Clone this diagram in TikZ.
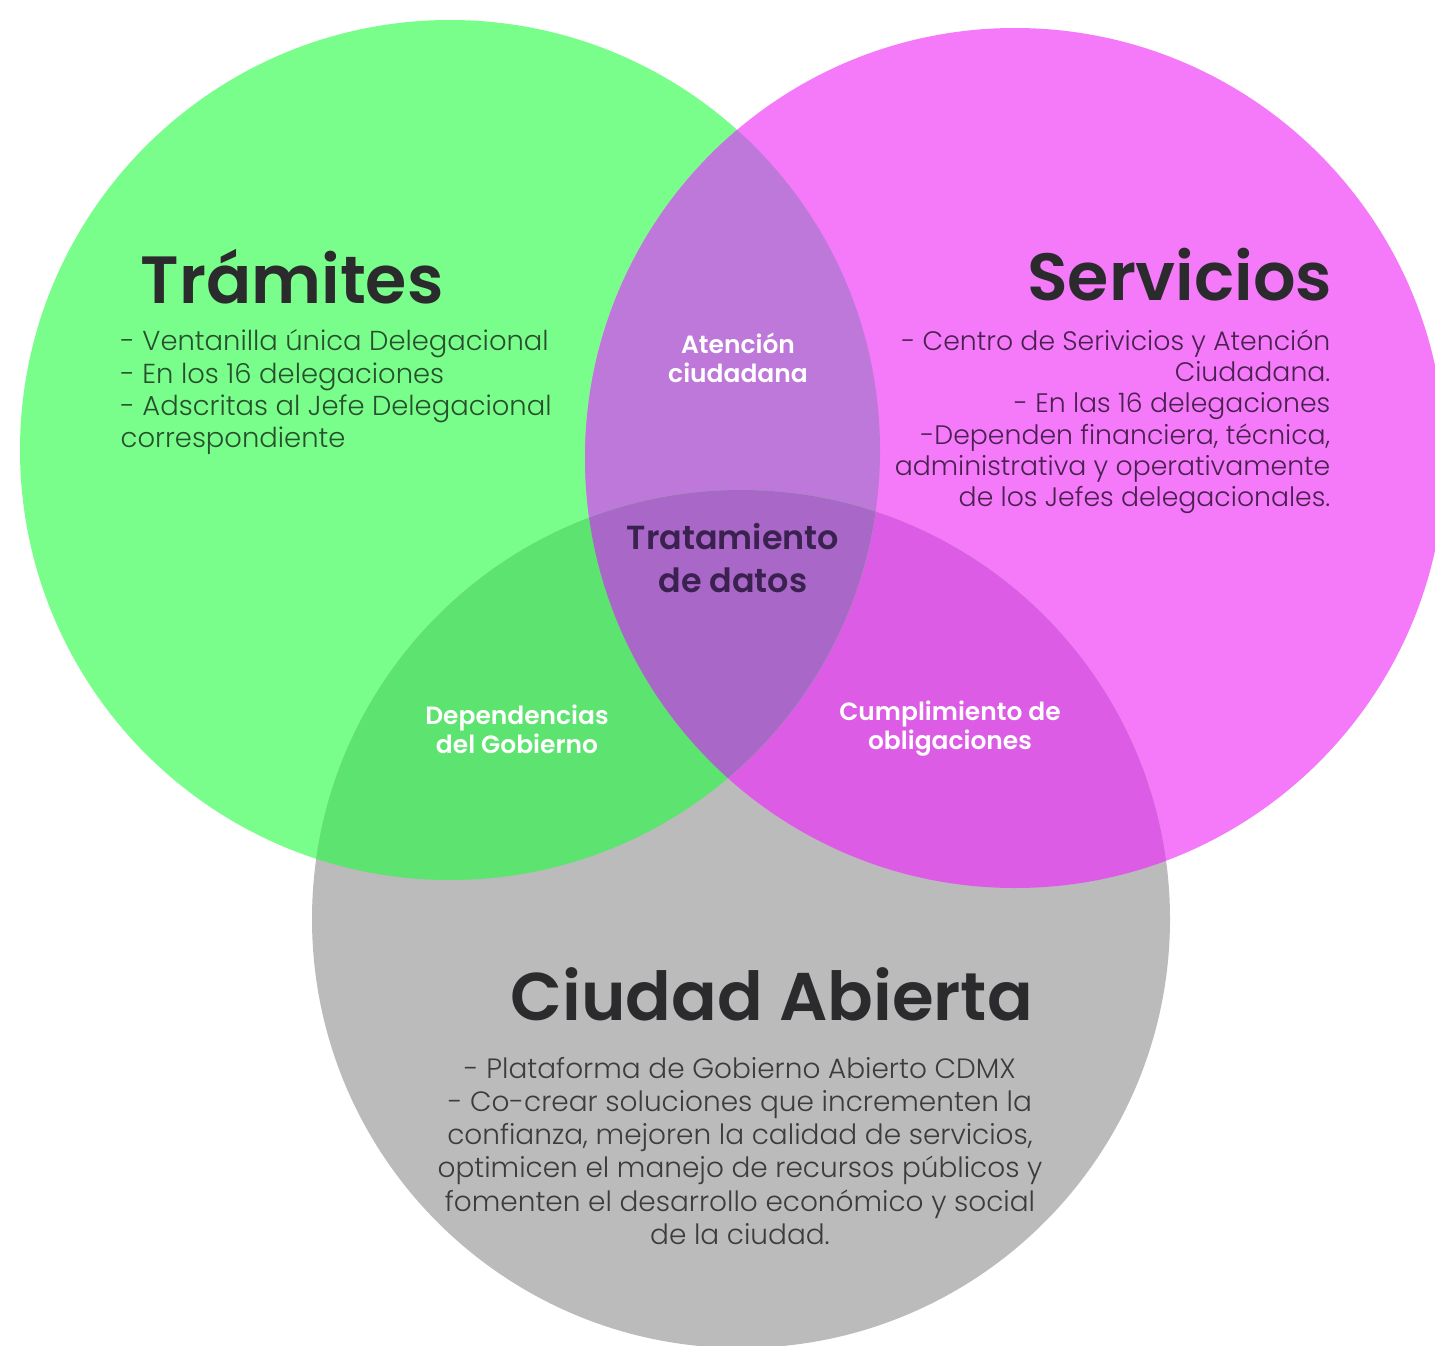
\documentclass[tikz,border=0pt]{standalone}
\usepackage{fontspec}
\setmainfont{Poppins}
\newfontfamily\ligera{Poppins Light}
\newfontfamily\negrita{Poppins SemiBold}
\usetikzlibrary{positioning}
\definecolor{verde}{HTML}{7AFE8B}
\definecolor{rosa}{HTML}{F47AF9}
\definecolor{gris}{HTML}{BBBBBB}
\definecolor{verderosa}{HTML}{BD78D9}
\definecolor{verdegris}{HTML}{5DE36F}
\definecolor{rosagris}{HTML}{DC5CE6}
\definecolor{centro}{HTML}{A967C7}
\definecolor{tinta}{HTML}{2B2B2D}
\definecolor{tintaverde}{HTML}{27512D}
\definecolor{tintarosa}{HTML}{4A2050}
\definecolor{tintagris}{HTML}{3C3C3E}
\definecolor{tintacentro}{HTML}{3B2150}

\begin{document}
\begin{tikzpicture}[
    titulo/.style={font=\negrita\fontsize{19}{22}\selectfont, text=tinta, inner sep=0pt},
    lista/.style={font=\ligera\fontsize{7.8}{9.2}\selectfont, inner sep=0pt},
    cruce/.style={font=\negrita\fontsize{7.1}{8.2}\selectfont, text=white, align=center, inner sep=0pt}]
    \useasboundingbox (0,0) rectangle (14.35,-13.45);
    \fill[white] (0,0) rectangle (14.35,-13.45);
    \clip (0,0) rectangle (14.35,-13.45);

    % circulos
    \coordinate (cT) at (4.50,-4.50);
    \coordinate (cS) at (10.15,-4.58);
    \coordinate (cA) at (7.41,-9.19);
    \fill[verde] (cT) circle (4.30);
    \fill[rosa] (cS) circle (4.30);
    \fill[gris] (cA) circle (4.29);

    % intersecciones
    \begin{scope}
        \clip (cS) circle (4.30);
        \fill[rosagris] (cA) circle (4.29);
    \end{scope}
    \begin{scope}
        \clip (cT) circle (4.30);
        \fill[verderosa] (cS) circle (4.30);
        \fill[verdegris] (cA) circle (4.29);
        \clip (cS) circle (4.30);
        \fill[centro] (cA) circle (4.29);
    \end{scope}

    % textos
    \node[titulo, anchor=base west] (tram) at (1.40,-3.03) {Trámites};
    \node[lista, text=tintaverde, anchor=north west, align=left] (tramlista) at (1.20,-3.29)
        {- Ventanilla única Delegacional\\- En los 16 delegaciones\\- Adscritas al Jefe Delegacional\\correspondiente};

    \node[titulo, anchor=base east] (serv) at (13.33,-3.00) {Servicios};
    \node[lista, text=tintarosa, anchor=north east, align=right,
          font=\ligera\fontsize{7.6}{8.9}\selectfont] (servlista) at (13.31,-3.29)
        {- Centro de Serivicios y Atención\\Ciudadana.\\- En las 16 delegaciones\\-Dependen financiera, técnica,\\administrativa y operativamente\\de los Jefes delegacionales.};

    \node[titulo, anchor=base west, font=\negrita\fontsize{19.2}{22}\selectfont] (ciudad) at (5.10,-10.20) {Ciudad Abierta};
    \node[lista, text=tintagris, anchor=north, align=center,
          font=\ligera\fontsize{7.95}{9.4}\selectfont] (ciudadlista) at (7.40,-10.57)
        {- Plataforma de Gobierno Abierto CDMX\\- Co-crear soluciones que incrementen la\\confianza, mejoren la calidad de servicios,\\optimicen el manejo de recursos públicos y\\fomenten el desarrollo económico y social\\de la ciudad.};

    \node[cruce] (atencion) at (7.38,-3.58) {Atención\\ciudadana};
    \node[cruce, font=\negrita\fontsize{9.5}{12.2}\selectfont, text=tintacentro] (datos) at (7.33,-5.58) {Tratamiento\\de datos};
    \node[cruce] (gobierno) at (5.17,-7.29) {Dependencias\\del Gobierno};
    \node[cruce] (obligaciones) at (9.50,-7.29) {Cumplimiento de\\obligaciones};
\end{tikzpicture}
\end{document}
